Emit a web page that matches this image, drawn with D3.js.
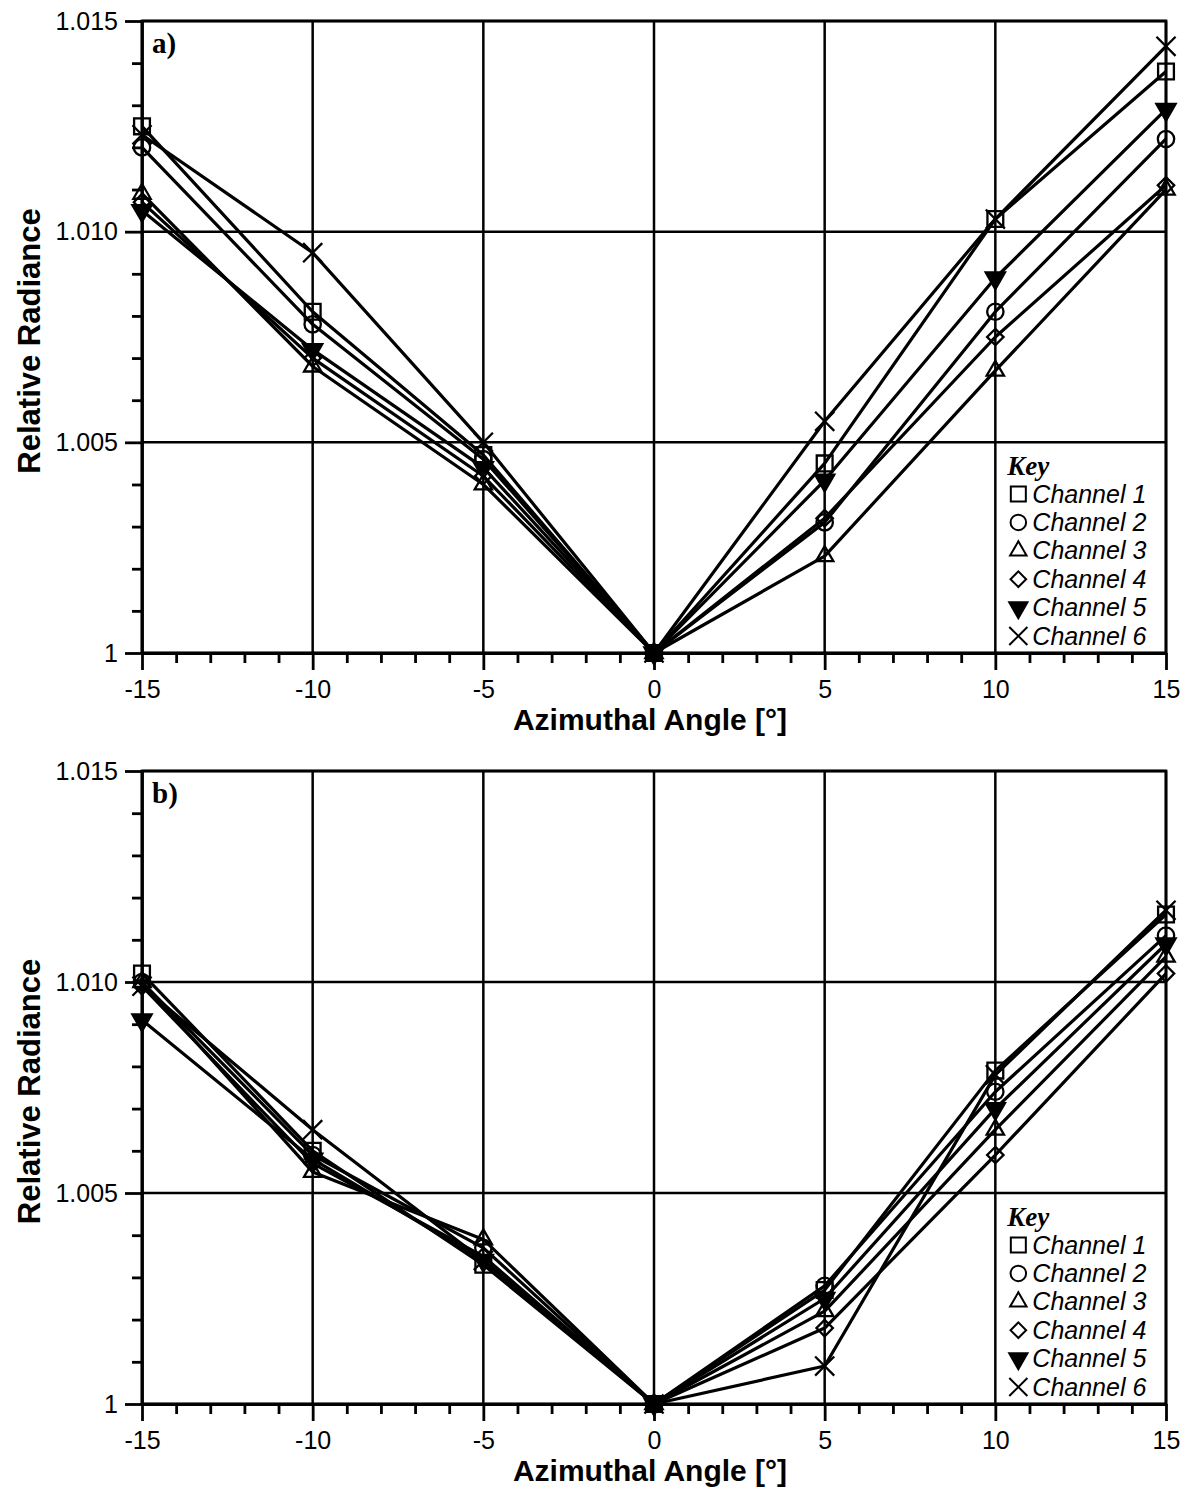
<!DOCTYPE html>
<html>
<head>
<meta charset="utf-8">
<script src="https://cdn.jsdelivr.net/npm/d3@7"></script>
<style>
  body { margin: 0; background: #fff; }
  svg { display: block; }
</style>
</head>
<body>
<svg id="chart" width="1184" height="1489"></svg>
<script>
// azimuthal angle (deg) shared by every series
var angles = [-15, -10, -5, 0, 5, 10, 15];
var channelNames = ["Channel 1", "Channel 2", "Channel 3", "Channel 4", "Channel 5", "Channel 6"];

// panel a) relative radiance per channel
var aCh1 = [1.0125, 1.0081, 1.0047, 1, 1.0045, 1.0103, 1.0138];
var aCh2 = [1.0120, 1.0078, 1.0046, 1, 1.0031, 1.0081, 1.0122];
var aCh3 = [1.0109, 1.0068, 1.0040, 1, 1.0023, 1.0067, 1.0110];
var aCh4 = [1.0107, 1.0070, 1.0042, 1, 1.0032, 1.0075, 1.0111];
var aCh5 = [1.0105, 1.0072, 1.0044, 1, 1.0041, 1.0089, 1.0129];
var aCh6 = [1.0123, 1.0095, 1.0050, 1, 1.0055, 1.0103, 1.0144];

// panel b)
var bCh1 = [1.0102, 1.0060, 1.0033, 1, 1.0027, 1.0079, 1.0116];
var bCh2 = [1.0100, 1.0059, 1.0037, 1, 1.0028, 1.0074, 1.0111];
var bCh3 = [1.0100, 1.0055, 1.0039, 1, 1.0022, 1.0065, 1.0106];
var bCh4 = [1.0099, 1.0057, 1.0035, 1, 1.0018, 1.0059, 1.0102];
var bCh5 = [1.0091, 1.0058, 1.0034, 1, 1.0025, 1.0070, 1.0109];
var bCh6 = [1.0099, 1.0065, 1.0034, 1, 1.0009, 1.0078, 1.0117];

var xMajor = [-15, -10, -5, 0, 5, 10, 15];
var yMajor = [1, 1.005, 1.010, 1.015];

var SANS = "'Liberation Sans', Arial, Helvetica, sans-serif";
var SERIF = "'Liberation Serif', 'Times New Roman', serif";

var svg = d3.select("#chart");

// marker shapes, one per channel
var markers = [
    { type: d3.symbolSquare, size: 250, rot: 0, fill: "none" },
    { type: d3.symbolCircle, size: 210, rot: 0, fill: "none" },
    { type: d3.symbolTriangle, size: 130, rot: 0, fill: "none" },
    { type: d3.symbolSquare, size: 135, rot: 45, fill: "none" },
    { type: d3.symbolTriangle, size: 160, rot: 180, fill: "black" },
    { type: d3.symbolTimes, size: 240, rot: 0, fill: "none" }
];

function drawPanel(top, bottom, label, series) {
    var left = 142, right = 1166;
    var x = d3.scaleLinear().domain([-15, 15]).range([left, right]);
    var y = d3.scaleLinear().domain([1, 1.015]).range([bottom, top]);
    var g = svg.append("g");

    // grid
    g.append("g").selectAll("line").data(xMajor).enter().append("line")
        .attr("x1", d => x(d)).attr("x2", d => x(d))
        .attr("y1", y(1.015)).attr("y2", y(1))
        .attr("stroke", "black").attr("stroke-width", 2.5);
    g.append("g").selectAll("line").data(yMajor).enter().append("line")
        .attr("x1", x(-15)).attr("x2", x(15))
        .attr("y1", d => y(d)).attr("y2", d => y(d))
        .attr("stroke", "black").attr("stroke-width", 2.5);

    // minor ticks
    g.append("g").attr("transform", "translate(0," + bottom + ")")
        .call(d3.axisBottom(x).tickValues(d3.range(-15, 16, 1).filter(d => d % 5 !== 0))
            .tickSize(10).tickFormat(""))
        .call(s => s.select(".domain").remove());
    g.append("g").attr("transform", "translate(" + left + ",0)")
        .call(d3.axisLeft(y).tickValues(d3.range(1, 1.0151, 0.001).filter((d, i) => i % 5 !== 0))
            .tickSize(10).tickFormat(""))
        .call(s => s.select(".domain").remove());

    // major axes
    var xa = g.append("g").attr("transform", "translate(0," + bottom + ")")
        .call(d3.axisBottom(x).tickValues(xMajor).tickSize(17).tickSizeOuter(0).tickPadding(10)
            .tickFormat(d => d));
    var ya = g.append("g").attr("transform", "translate(" + left + ",0)")
        .call(d3.axisLeft(y).tickValues(yMajor).tickSize(17).tickSizeOuter(0).tickPadding(7)
            .tickFormat(d => d === 1 ? "1" : d3.format(".3f")(d)));
    g.selectAll(".tick line").attr("stroke", "black").attr("stroke-width", 2.8);
    g.selectAll(".domain").attr("stroke", "black").attr("stroke-width", 2.8);
    [xa, ya].forEach(a => a.selectAll("text")
        .attr("fill", "black").style("font-family", SANS).style("font-size", "25px"));

    // frame
    g.append("rect").attr("x", left).attr("y", top)
        .attr("width", right - left).attr("height", bottom - top)
        .attr("fill", "none").attr("stroke", "black").attr("stroke-width", 2.8);

    // lines
    var line = d3.line().x((d, i) => x(angles[i])).y(d => y(d));
    g.append("g").selectAll("path").data(series).enter().append("path")
        .attr("d", d => line(d))
        .attr("fill", "none").attr("stroke", "black").attr("stroke-width", 3.2)
        .attr("stroke-linejoin", "round");

    // markers
    series.forEach(function(vals, si) {
        var m = markers[si];
        var sym = d3.symbol().type(m.type).size(m.size);
        g.append("g").selectAll("path").data(vals).enter().append("path")
            .attr("d", sym)
            .attr("transform", (d, i) => "translate(" + x(angles[i]) + "," + y(d) + ") rotate(" + m.rot + ")")
            .attr("fill", m.fill).attr("stroke", "black").attr("stroke-width", 2.3);
    });

    // panel letter
    g.append("text").attr("x", left + 10).attr("y", top + 32)
        .style("font-family", SERIF).style("font-weight", "bold").style("font-size", "29px")
        .text(label);

    // axis titles
    g.append("text").attr("x", (left + right) / 2 - 4).attr("y", bottom + 77)
        .attr("text-anchor", "middle")
        .style("font-family", SANS).style("font-weight", "bold").style("font-size", "30px")
        .text("Azimuthal Angle [°]");
    g.append("text")
        .attr("transform", "translate(40," + ((top + bottom) / 2 + 4) + ") rotate(-90)")
        .attr("text-anchor", "middle")
        .style("font-family", SANS).style("font-weight", "bold").style("font-size", "31px")
        .text("Relative Radiance");

    // key
    var kx = x(10) + 12;
    var lg = g.append("g");
    lg.append("text").attr("x", kx).attr("y", bottom - 178)
        .style("font-family", SERIF).style("font-weight", "bold").style("font-style", "italic")
        .style("font-size", "27px").text("Key");
    channelNames.forEach(function(name, i) {
        var cy = bottom - 159 + i * 28.4;
        var m = markers[i];
        lg.append("path")
            .attr("d", d3.symbol().type(m.type).size(m.size * 0.9)())
            .attr("transform", "translate(" + (kx + 11) + "," + cy + ") rotate(" + m.rot + ")")
            .attr("fill", m.fill).attr("stroke", "black").attr("stroke-width", 2);
        lg.append("text").attr("x", kx + 25).attr("y", cy + 8.5)
            .style("font-family", SANS).style("font-style", "italic").style("font-size", "25px")
            .text(name);
    });
}

drawPanel(21, 653, "a)", [aCh1, aCh2, aCh3, aCh4, aCh5, aCh6]);
drawPanel(771, 1404, "b)", [bCh1, bCh2, bCh3, bCh4, bCh5, bCh6]);
</script>
</body>
</html>
